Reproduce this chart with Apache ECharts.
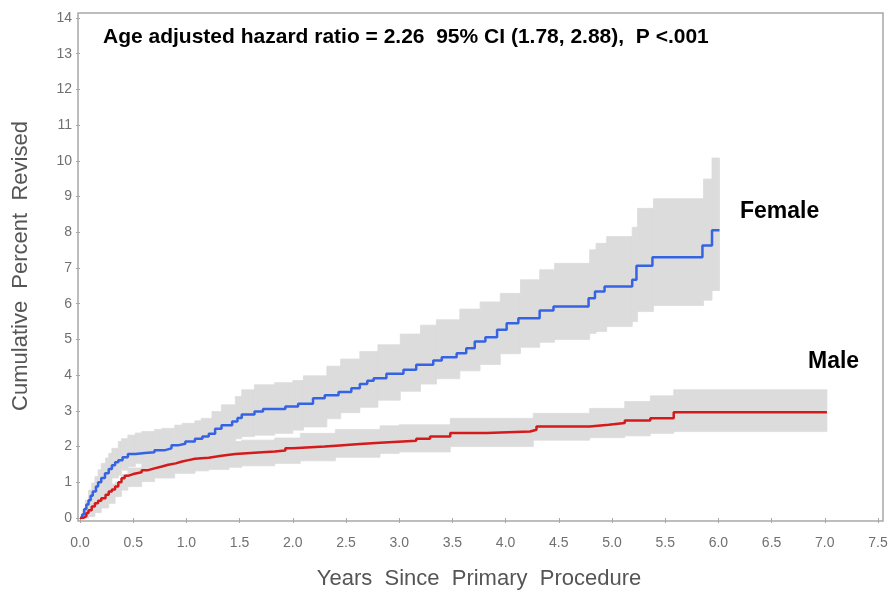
<!DOCTYPE html>
<html>
<head>
<meta charset="utf-8">
<script src="https://cdn.jsdelivr.net/npm/echarts@6/dist/echarts.min.js"></script>
<style>
  html, body { margin: 0; padding: 0; background: #ffffff; }
  #chart { width: 893px; height: 594px; }
</style>
</head>
<body>
<div id="chart"></div>
<script>
// Kaplan-Meier style cumulative revision curves (step functions).
const femaleTime = [0, 0.02, 0.04, 0.06, 0.08, 0.10, 0.12, 0.15, 0.17, 0.20, 0.235, 0.27, 0.30, 0.33, 0.36, 0.40, 0.45, 0.52, 0.61, 0.70, 0.80, 0.86, 0.93, 0.99, 1.08, 1.15, 1.21, 1.27, 1.33, 1.43, 1.48, 1.52, 1.64, 1.72, 1.93, 2.05, 2.19, 2.30, 2.43, 2.55, 2.63, 2.70, 2.76, 2.88, 3.04, 3.16, 3.32, 3.40, 3.54, 3.63, 3.71, 3.81, 3.92, 4.01, 4.12, 4.32, 4.45, 4.78, 4.84, 4.93, 5.19, 5.23, 5.38, 5.85, 5.94, 6.01];
const femaleValue = [0, 0.10, 0.25, 0.38, 0.50, 0.62, 0.74, 0.88, 1.00, 1.12, 1.25, 1.37, 1.48, 1.56, 1.62, 1.70, 1.79, 1.82, 1.84, 1.90, 1.95, 2.04, 2.08, 2.14, 2.22, 2.28, 2.36, 2.50, 2.60, 2.70, 2.80, 2.90, 2.98, 3.05, 3.12, 3.20, 3.35, 3.44, 3.53, 3.63, 3.75, 3.84, 3.91, 4.04, 4.15, 4.29, 4.41, 4.50, 4.61, 4.75, 4.94, 5.06, 5.27, 5.45, 5.59, 5.81, 5.92, 6.15, 6.34, 6.48, 6.67, 7.06, 7.30, 7.63, 8.06, 8.06];

const maleTime = [0, 0.03, 0.06, 0.08, 0.11, 0.14, 0.17, 0.20, 0.24, 0.27, 0.30, 0.33, 0.36, 0.39, 0.42, 0.45, 0.50, 0.58, 0.64, 0.70, 0.77, 0.83, 0.90, 0.96, 1.02, 1.08, 1.21, 1.33, 1.46, 1.64, 1.83, 1.93, 2.00, 2.30, 2.44, 2.63, 2.82, 3.16, 3.29, 3.48, 3.82, 4.23, 4.29, 4.79, 4.97, 5.12, 5.36, 5.58, 7.02];
const maleValue = [0, 0.05, 0.14, 0.22, 0.32, 0.41, 0.48, 0.55, 0.65, 0.74, 0.80, 0.88, 1.00, 1.11, 1.18, 1.23, 1.28, 1.34, 1.39, 1.44, 1.49, 1.53, 1.58, 1.62, 1.66, 1.69, 1.74, 1.79, 1.83, 1.86, 1.89, 1.95, 2.00, 2.03, 2.07, 2.11, 2.16, 2.22, 2.28, 2.38, 2.42, 2.47, 2.56, 2.61, 2.66, 2.73, 2.79, 2.96, 2.96];

// 95% confidence bands (value held from each time until the next one)
const femaleBandTime  = [0, 0.02, 0.05, 0.08, 0.11, 0.14, 0.17, 0.20, 0.24, 0.27, 0.30, 0.36, 0.39, 0.45, 0.52, 0.58, 0.70, 0.77, 0.89, 0.96, 1.08, 1.14, 1.24, 1.33, 1.46, 1.52, 1.64, 1.83, 2.00, 2.10, 2.32, 2.45, 2.63, 2.80, 3.01, 3.20, 3.35, 3.57, 3.76, 3.95, 4.14, 4.32, 4.46, 4.79, 4.85, 4.95, 5.19, 5.24, 5.39, 5.86, 5.94, 6.01];
const femaleBandLower = [0, 0, 0, 0.05, 0.18, 0.32, 0.45, 0.58, 0.78, 0.90, 1.12, 1.20, 1.34, 1.44, 1.53, 1.58, 1.67, 1.70, 1.76, 1.78, 1.81, 1.86, 1.95, 2.05, 2.22, 2.28, 2.32, 2.37, 2.46, 2.55, 2.78, 2.95, 3.10, 3.30, 3.55, 3.75, 3.90, 4.12, 4.30, 4.60, 4.78, 4.92, 5.00, 5.17, 5.22, 5.36, 5.50, 5.78, 5.95, 6.10, 6.37, 6.37];
const femaleBandUpper = [0, 0.22, 0.50, 0.78, 0.98, 1.16, 1.35, 1.53, 1.68, 1.81, 1.95, 2.14, 2.22, 2.32, 2.38, 2.42, 2.48, 2.51, 2.60, 2.65, 2.72, 2.79, 2.98, 3.17, 3.40, 3.59, 3.73, 3.79, 3.85, 3.98, 4.25, 4.45, 4.66, 4.85, 5.15, 5.40, 5.55, 5.85, 6.05, 6.29, 6.67, 6.95, 7.13, 7.51, 7.69, 7.88, 8.14, 8.67, 8.94, 9.49, 10.08, 10.08];

const maleBandTime  = [0, 0.03, 0.08, 0.14, 0.20, 0.27, 0.33, 0.39, 0.45, 0.58, 0.70, 0.89, 1.08, 1.21, 1.40, 1.52, 1.83, 2.07, 2.40, 2.82, 3.00, 3.48, 4.26, 4.79, 5.12, 5.36, 5.58, 7.02];
const maleBandLower = [0, 0, 0.04, 0.15, 0.28, 0.41, 0.60, 0.78, 0.88, 1.02, 1.12, 1.25, 1.32, 1.36, 1.42, 1.46, 1.53, 1.60, 1.70, 1.81, 1.85, 2.00, 2.18, 2.25, 2.30, 2.37, 2.42, 2.42];
const maleBandUpper = [0, 0.12, 0.35, 0.60, 0.80, 0.95, 1.00, 1.22, 1.40, 1.60, 1.72, 1.85, 1.98, 2.05, 2.14, 2.18, 2.24, 2.37, 2.48, 2.58, 2.61, 2.79, 2.93, 3.07, 3.26, 3.42, 3.59, 3.59];

const xTicks = ['0.0', '0.5', '1.0', '1.5', '2.0', '2.5', '3.0', '3.5', '4.0', '4.5', '5.0', '5.5', '6.0', '6.5', '7.0', '7.5'];

const BAND_GREY = '#dcdcdc';
const FEMALE_BLUE = '#3563e3';
const MALE_RED = '#d41a1a';
const TICK_FONT = "'Liberation Sans', Arial, sans-serif";
const BOLD_FONT = "bold {s}px 'Liberation Sans', Arial, sans-serif";

// Expand a right-continuous step function into explicit corner points.
function stepPoints(times, values) {
  const out = [[times[0], values[0]]];
  for (let i = 1; i < times.length; i++) {
    out.push([times[i], values[i - 1]]);
    out.push([times[i], values[i]]);
  }
  return out;
}

// One rectangle per interval of the confidence band.
function bandSegments(times, lower, upper) {
  const segs = [];
  for (let i = 0; i < times.length - 1; i++) {
    segs.push([times[i], times[i + 1], lower[i], upper[i]]);
  }
  return segs;
}

function renderBand(params, api) {
  const p0 = api.coord([api.value(0), api.value(3)]);
  const p1 = api.coord([api.value(1), api.value(2)]);
  return {
    type: 'rect',
    shape: { x: p0[0], y: p0[1], width: p1[0] - p0[0], height: p1[1] - p0[1] },
    style: { fill: BAND_GREY, stroke: BAND_GREY, lineWidth: 0.8 }
  };
}

const chart = echarts.init(document.getElementById('chart'), null, { renderer: 'canvas' });

chart.setOption({
  animation: false,
  backgroundColor: '#ffffff',
  grid: { left: 80, right: 15, top: 18, bottom: 76, containLabel: false },
  xAxis: {
    type: 'value', min: 0, max: 7.5, interval: 0.5, offset: 3,
    axisLine: { show: false },
    axisTick: { show: true, length: 5, lineStyle: { color: '#a8a8a8', width: 1 } },
    axisLabel: {
      margin: 15, color: '#707070', fontSize: 14, fontFamily: TICK_FONT,
      formatter: (v) => xTicks[Math.round(v / 0.5)]
    },
    splitLine: { show: false }
  },
  yAxis: {
    type: 'value', min: 0, max: 14, interval: 1, offset: 2,
    axisLine: { show: false },
    axisTick: { show: true, length: 4, lineStyle: { color: '#a8a8a8', width: 1 } },
    axisLabel: { margin: 6, color: '#707070', fontSize: 14, fontFamily: TICK_FONT },
    splitLine: { show: false }
  },
  series: [
    {
      name: 'Female 95% CI', type: 'custom', silent: true, z: 1,
      renderItem: renderBand, encode: { x: [0, 1], y: [2, 3] },
      data: bandSegments(femaleBandTime, femaleBandLower, femaleBandUpper)
    },
    {
      name: 'Male 95% CI', type: 'custom', silent: true, z: 1,
      renderItem: renderBand, encode: { x: [0, 1], y: [2, 3] },
      data: bandSegments(maleBandTime, maleBandLower, maleBandUpper)
    },
    {
      name: 'Female', type: 'line', symbol: 'none', z: 3,
      lineStyle: { color: FEMALE_BLUE, width: 2.5 },
      data: stepPoints(femaleTime, femaleValue)
    },
    {
      name: 'Male', type: 'line', symbol: 'none', z: 3,
      lineStyle: { color: MALE_RED, width: 2.5 },
      data: stepPoints(maleTime, maleValue)
    }
  ],
  graphic: [
    {
      type: 'rect', z: 10, silent: true,
      shape: { x: 78, y: 13, width: 805, height: 508 },
      style: { fill: null, stroke: '#a8a8a8', lineWidth: 1.5 }
    },
    {
      type: 'text', z: 11, x: 103, y: 37,
      style: {
        text: 'Age adjusted hazard ratio = 2.26  95% CI (1.78, 2.88),  P <.001',
        verticalAlign: 'middle',
        font: BOLD_FONT.replace('{s}', 21), fill: '#000000'
      }
    },
    {
      type: 'text', z: 11, x: 740, y: 212,
      style: { text: 'Female', verticalAlign: 'middle', font: BOLD_FONT.replace('{s}', 23), fill: '#000000' }
    },
    {
      type: 'text', z: 11, x: 808, y: 362,
      style: { text: 'Male', verticalAlign: 'middle', font: BOLD_FONT.replace('{s}', 23), fill: '#000000' }
    },
    {
      type: 'text', z: 11, x: 479, y: 579,
      style: {
        text: 'Years  Since  Primary  Procedure', align: 'center', verticalAlign: 'middle',
        font: "22px 'Liberation Sans', Arial, sans-serif", fill: '#555555'
      }
    },
    {
      type: 'text', z: 11, x: 21, y: 266, rotation: Math.PI / 2,
      style: {
        text: 'Cumulative  Percent  Revised', align: 'center', verticalAlign: 'middle',
        font: "22px 'Liberation Sans', Arial, sans-serif", fill: '#555555'
      }
    }
  ]
});
</script>
</body>
</html>
